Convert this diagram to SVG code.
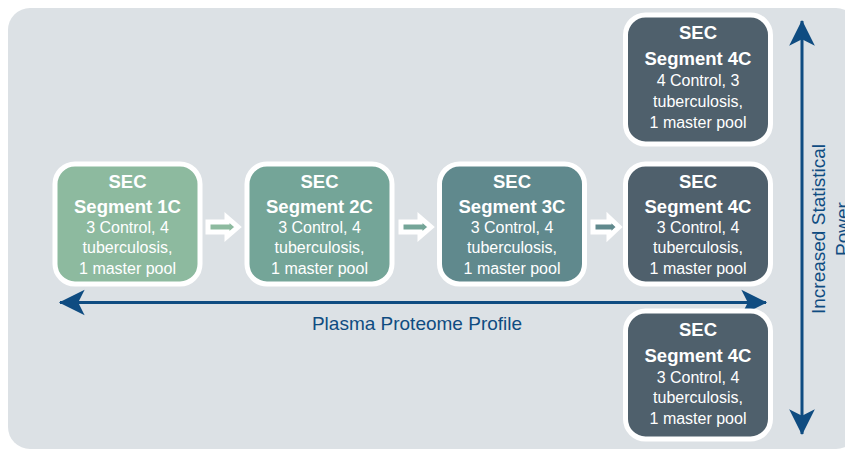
<svg xmlns="http://www.w3.org/2000/svg" width="845" height="450" viewBox="0 0 845 450">
<style>
.box{stroke:#ffffff;stroke-width:5}
.t{font-family:"Liberation Sans",Arial,sans-serif;fill:#ffffff;text-anchor:middle}
.b{font-weight:bold;font-size:18.5px}
.r{font-size:16px}
.step{stroke:#ffffff;stroke-width:5;stroke-linejoin:miter}
.axis{stroke:#0f4c81;stroke-width:3;fill:none}
.lbl{font-family:"Liberation Sans",Arial,sans-serif;font-size:19px;fill:#0f4c81;text-anchor:middle}
</style>
<defs>
<marker id="ah" markerUnits="userSpaceOnUse" markerWidth="30" markerHeight="30" viewBox="-25 -14 27 28" refX="0" refY="0" orient="auto-start-reverse">
<path d="M1,0 L-23,-12 L-17,0 L-23,12 Z" fill="#0f4c81"/>
</marker>
</defs>
<rect x="8" y="8" width="850" height="441" rx="22" fill="#dce1e5"/>
<g id="connectors">
<line class="axis" x1="60" y1="302.5" x2="766" y2="302.5" marker-start="url(#ah)" marker-end="url(#ah)"/>
<line class="axis" x1="802" y1="21" x2="802" y2="434" marker-start="url(#ah)" marker-end="url(#ah)"/>
<path class="step" fill="#8dba9f" d="M208,222 H227 V217.5 L238,227 L227,236.5 V232 H208 Z"/>
<path class="step" fill="#74a598" d="M401,222 H420 V217.5 L431,227 L420,236.5 V232 H401 Z"/>
<path class="step" fill="#60898d" d="M593,222 H609 V217.5 L619,227 L609,236.5 V232 H593 Z"/>
</g>
<text class="lbl" x="417" y="330">Plasma Proteome Profile</text>
<text class="lbl" transform="translate(825,229) rotate(-90)"><tspan x="0" y="0">Increased Statistical</tspan><tspan x="0" y="24">Power</tspan></text>
<g id="seg1c">
<rect class="box" x="55" y="164" width="145" height="120" rx="20" fill="#8dba9f"/>
<text class="t b" x="127.5" y="188">SEC</text>
<text class="t b" x="127.5" y="213">Segment 1C</text>
<text class="t r" x="127.5" y="233">3 Control, 4</text>
<text class="t r" x="127.5" y="253">tuberculosis,</text>
<text class="t r" x="127.5" y="274">1 master pool</text>
</g>
<g id="seg2c">
<rect class="box" x="247" y="164" width="145" height="120" rx="20" fill="#74a598"/>
<text class="t b" x="319.5" y="188">SEC</text>
<text class="t b" x="319.5" y="213">Segment 2C</text>
<text class="t r" x="319.5" y="233">3 Control, 4</text>
<text class="t r" x="319.5" y="253">tuberculosis,</text>
<text class="t r" x="319.5" y="274">1 master pool</text>
</g>
<g id="seg3c">
<rect class="box" x="439.5" y="164" width="145" height="120" rx="20" fill="#60898d"/>
<text class="t b" x="512" y="188">SEC</text>
<text class="t b" x="512" y="213">Segment 3C</text>
<text class="t r" x="512" y="233">3 Control, 4</text>
<text class="t r" x="512" y="253">tuberculosis,</text>
<text class="t r" x="512" y="274">1 master pool</text>
</g>
<g id="seg4c">
<rect class="box" x="625.5" y="164" width="145" height="120" rx="20" fill="#4f606c"/>
<text class="t b" x="698" y="188">SEC</text>
<text class="t b" x="698" y="213">Segment 4C</text>
<text class="t r" x="698" y="233">3 Control, 4</text>
<text class="t r" x="698" y="253">tuberculosis,</text>
<text class="t r" x="698" y="274">1 master pool</text>
</g>
<g id="seg4c-top">
<rect class="box" x="625.5" y="15" width="145" height="129" rx="20" fill="#4f606c"/>
<text class="t b" x="698" y="39">SEC</text>
<text class="t b" x="698" y="65">Segment 4C</text>
<text class="t r" x="698" y="86">4 Control, 3</text>
<text class="t r" x="698" y="107">tuberculosis,</text>
<text class="t r" x="698" y="128">1 master pool</text>
</g>
<g id="seg4c-bottom">
<rect class="box" x="625.5" y="311" width="145" height="128" rx="20" fill="#4f606c"/>
<text class="t b" x="698" y="336">SEC</text>
<text class="t b" x="698" y="362">Segment 4C</text>
<text class="t r" x="698" y="383">3 Control, 4</text>
<text class="t r" x="698" y="403">tuberculosis,</text>
<text class="t r" x="698" y="424">1 master pool</text>
</g>
</svg>
